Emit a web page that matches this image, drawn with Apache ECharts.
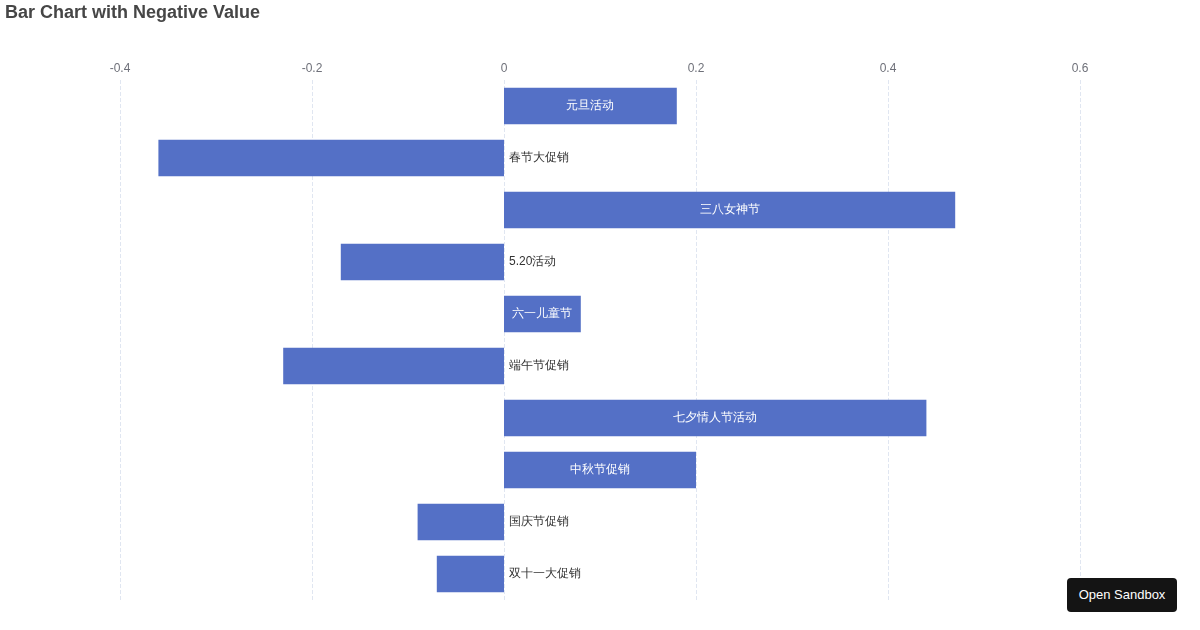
<!DOCTYPE html>
<html>
<head>
<meta charset="utf-8">
<title>Bar Chart with Negative Value</title>
<script src="https://cdn.jsdelivr.net/npm/echarts@6/dist/echarts.min.js"></script>
<style>
    html, body {margin: 0; padding: 0; background: #fff;}
    #main {width: 1200px; height: 630px;}
    .sandbox-btn {
        position: absolute; left: 1067px; top: 578px; width: 110px; height: 34px;
        background: #141414; color: #fff; border-radius: 4px;
        font: 13px "Liberation Sans", sans-serif; line-height: 34px; text-align: center;
    }
</style>
</head>
<body>
<div id="main"></div>
<div class="sandbox-btn">Open Sandbox</div>
<script>
    //类目 (从下到上)
    var categories = ['双十一大促销', '国庆节促销', '中秋节促销', '七夕情人节活动', '端午节促销',
        '六一儿童节', '5.20活动', '三八女神节', '春节大促销', '元旦活动'];
    //数值
    var values = [-0.07, -0.09, 0.2, 0.44, -0.23, 0.08, -0.17, 0.47, -0.36, 0.18];
    //刻度
    var ticks = [-0.4, -0.2, 0, 0.2, 0.4, 0.6];

    var labelRight = {
        position: 'right',
        color: '#333'
    };

    //负值的标签放到右边
    var barData = [];
    for (var i = 0; i < values.length; i++) {
        if (values[i] < 0) {
            barData.push({value: values[i], label: labelRight});
        } else {
            barData.push(values[i]);
        }
    }

    var chart = echarts.init(document.getElementById('main'));
    var option = {
        title: {
            text: 'Bar Chart with Negative Value',
            left: 0,
            top: -1,
            textStyle: {
                fontSize: 18,
                fontWeight: 'bold',
                color: '#464646'
            }
        },
        grid: {
            top: 80,
            bottom: 30,
            left: 120,
            right: 120
        },
        xAxis: {
            type: 'value',
            position: 'top',
            min: ticks[0],
            max: ticks[ticks.length - 1],
            interval: 0.2,
            axisLine: {show: false},
            axisTick: {show: false},
            axisLabel: {
                color: '#6e7079',
                fontSize: 12,
                margin: 5
            },
            splitLine: {
                lineStyle: {
                    type: 'dashed',
                    color: '#E0E6F1'
                }
            }
        },
        yAxis: {
            type: 'category',
            axisLine: {show: false},
            axisLabel: {show: false},
            axisTick: {show: false},
            splitLine: {show: false},
            data: categories
        },
        series: [
            {
                name: 'Cost',
                type: 'bar',
                stack: 'Total',
                barCategoryGap: '30%',
                itemStyle: {color: '#5470c6'},
                label: {
                    show: true,
                    formatter: '{b}',
                    color: '#fff',
                    fontSize: 12
                },
                data: barData
            }
        ]
    };
    if (option && typeof option === "object") {
        chart.setOption(option, true)
    };
</script>
</body>
</html>
